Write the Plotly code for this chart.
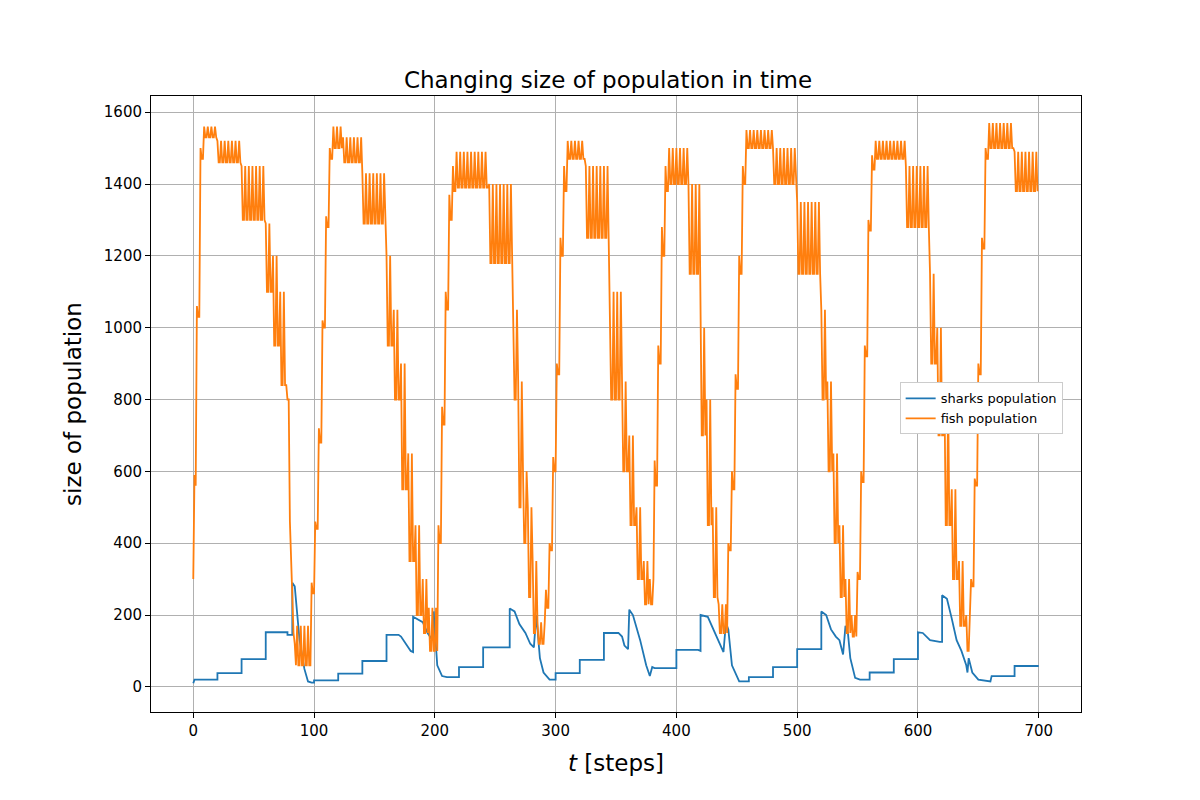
import plotly.graph_objects as go

# fish: runs of (n_steps, high, low), one high step followed by two low steps
fish_runs = [
    (1, 300, 300), (2, 590, 560), (3, 1060, 1030), (3, 1500, 1470), (11, 1560, 1530),
    (20, 1520, 1460), (20, 1450, 1300),
    (6, 1290, 1100), (6, 1200, 950), (6, 1100, 840), (2, 800, 800),
    (2, 460, 350), (2, 300, 150), (2, 120, 60), (12, 170, 60),
    (3, 290, 260), (3, 460, 440), (3, 720, 680), (3, 1020, 1000), (3, 1310, 1280), (3, 1500, 1470),
    (8, 1560, 1500), (16, 1530, 1460), (20, 1430, 1290),
    (6, 1200, 950), (6, 1050, 800), (6, 900, 550), (6, 650, 350), (6, 450, 200), (5, 300, 150),
    (8, 220, 100),
    (3, 450, 400), (3, 780, 730), (3, 1100, 1050), (3, 1370, 1300), (3, 1450, 1380),
    (27, 1490, 1390), (20, 1400, 1180),
    (4, 1050, 800), (4, 850, 500), (4, 600, 400), (4, 500, 250), (4, 350, 150), (7, 180, 120),
    (3, 270, 220), (3, 400, 380), (3, 640, 600), (3, 900, 870), (3, 1250, 1200), (3, 1450, 1380),
    (15, 1520, 1470), (20, 1450, 1250), (10, 1100, 800),
    (6, 850, 600), (6, 700, 450), (6, 500, 300), (5, 350, 230), (4, 300, 230),
    (3, 630, 560), (3, 950, 900), (3, 1280, 1200), (3, 1450, 1380),
    (16, 1500, 1400), (10, 1400, 1150),
    (5, 1000, 700), (5, 800, 450), (5, 500, 250), (8, 230, 150),
    (3, 400, 380), (3, 600, 550), (3, 870, 830), (3, 1200, 1150), (3, 1450, 1400),
    (22, 1550, 1500), (20, 1500, 1400), (20, 1350, 1150),
    (5, 1050, 800), (5, 850, 600), (5, 650, 400), (5, 450, 250), (5, 300, 150), (5, 200, 140),
    (3, 320, 300), (3, 600, 570), (3, 950, 920), (3, 1300, 1270), (3, 1480, 1440),
    (25, 1520, 1470), (20, 1450, 1280),
    (6, 1150, 900), (6, 1000, 700), (6, 800, 450), (6, 550, 300), (6, 350, 170), (4, 200, 100),
    (3, 300, 280), (3, 580, 560), (3, 900, 870), (3, 1250, 1220), (3, 1500, 1470),
    (21, 1570, 1500), (20, 1490, 1380),
]

# sharks: vertices (step, size)
shark_t = [0, 1, 20, 20, 40, 40, 60, 60, 78, 78, 82, 82, 84, 86, 88, 92, 95, 98, 100, 100,
           120, 120, 140, 140, 160, 160, 170, 172, 176, 180, 182, 182, 190, 194, 198, 199, 202, 206, 210,
           220, 220, 240, 240, 262, 262, 266, 270, 275, 279, 282, 284, 287, 290, 295, 300,
           300, 320, 320, 340, 340, 352, 355, 357, 360, 361, 364, 370, 375, 378, 380, 382, 400,
           400, 418, 420, 420, 426, 430, 434, 438, 439, 441, 443, 446, 452, 460,
           460, 480, 480, 500, 500, 520, 520, 524, 528, 532, 535, 538, 540, 542, 544, 548, 552, 560,
           560, 580, 580, 600, 600, 604, 610, 618, 620, 620, 624, 628, 632, 636, 640, 641, 642, 645, 650, 660,
           661, 680, 680, 700]
shark_n = [10, 20, 20, 38, 38, 77, 77, 152, 152, 145, 145, 290, 280, 200, 130, 50, 15, 12, 12, 18,
           18, 37, 37, 72, 72, 145, 145, 140, 120, 100, 97, 195, 180, 150, 130, 210, 60, 30, 27,
           27, 55, 55, 110, 110, 218, 210, 175, 150, 120, 110, 200, 80, 40, 20, 20,
           38, 38, 75, 75, 150, 150, 140, 115, 105, 215, 200, 130, 60, 30, 55, 52, 52,
           103, 103, 100, 200, 195, 165, 135, 100, 97, 178, 160, 60, 15, 15,
           27, 27, 55, 55, 105, 105, 210, 200, 160, 140, 130, 90, 170, 150, 80, 25, 20, 20,
           40, 40, 77, 77, 152, 150, 130, 125, 125, 255, 245, 190, 130, 100, 60, 40, 80, 40, 20, 15,
           30, 30, 58, 58]

fish = []
for n, hi, lo in fish_runs:
    for k in range(n):
        fish.append(hi if k % 3 == 0 else lo)

fig = go.Figure()
fig.add_trace(go.Scatter(x=shark_t, y=shark_n, mode="lines", name="sharks population",
                         line=dict(color="#1f77b4", width=1.8)))
fig.add_trace(go.Scatter(x=list(range(len(fish))), y=fish, mode="lines", name="fish population",
                         line=dict(color="#ff7f0e", width=1.8)))

axis = dict(showline=True, linecolor="black", mirror=True, ticks="outside", tickcolor="black",
            showgrid=True, gridcolor="#b0b0b0", zeroline=False, tickfont=dict(size=15, color="black"))
fig.update_layout(
    width=1200, height=800, plot_bgcolor="white", paper_bgcolor="white",
    margin=dict(l=143, r=127, t=88, b=96),
    font=dict(family="DejaVu Sans", color="black"),
    title=dict(text="Changing size of population in time", x=0.5, xanchor="center",
               y=0.9, yanchor="bottom", font=dict(size=23)),
    xaxis=dict(axis, range=[-35, 735], tickvals=[0, 100, 200, 300, 400, 500, 600, 700],
               title=dict(text="<i>t</i> [steps]", font=dict(size=23))),
    yaxis=dict(axis, range=[-70, 1645], tickvals=[0, 200, 400, 600, 800, 1000, 1200, 1400, 1600],
               title=dict(text="size of population", font=dict(size=23))),
    legend=dict(x=0.805, y=0.535, xanchor="left", yanchor="top", bgcolor="white",
                bordercolor="#cccccc", borderwidth=1, font=dict(size=13)),
)
fig.write_html("out.html")
